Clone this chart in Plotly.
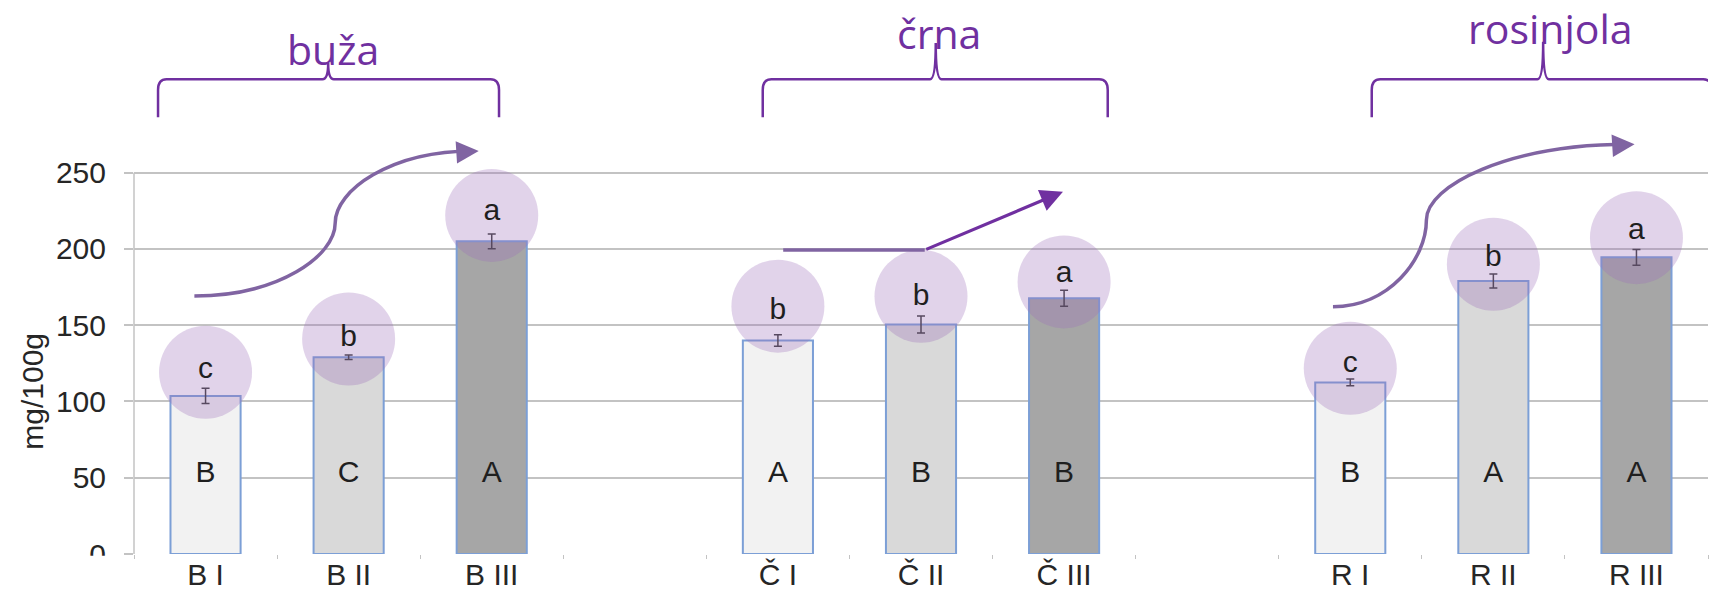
import plotly.graph_objects as go

# bar data (mg/100g)
labels = ["B I", "B II", "B III", "Č I", "Č II", "Č III", "R I", "R II", "R III"]
values = [103.6, 129, 205, 140, 150.5, 167.7, 112.5, 179, 194.5]
errors = [5.0, 1.5, 4.8, 3.8, 5.6, 5.2, 2.2, 4.6, 5.2]
letters_low = ["c", "b", "a", "b", "b", "a", "c", "b", "a"]
letters_cap = ["B", "C", "A", "A", "B", "B", "B", "A", "A"]
groups = ["buža", "črna", "rosinjola"]
y_ticks = [0, 50, 100, 150, 200, 250]

# placement of the hand-drawn letter labels/circles above each bar (offset from bar top)
letter_dy = [17, 12, 19, 18.8, 17.5, 15.3, 12, 14.9, 16.8]
circle_dy = [-1.4, 0, -2, 3.7, 1, -4.6, -2.8, -3.9, -3.9]

fills = ["#f2f2f2", "#d9d9d9", "#a6a6a6"] * 3
purple = "#7030a0"
purple2 = "#8064a2"
txt = dict(family="Liberation Sans, Arial", color="#1f1f1f")

# 3 groups of 3 bars with one empty slot between groups
pos = [g * 4 + i for g in range(3) for i in range(3)]
letter_y = [v + d for v, d in zip(values, letter_dy)]
circle_y = [y + d for y, d in zip(letter_y, circle_dy)]

fig = go.Figure()

fig.add_trace(go.Bar(
    x=pos, y=values, width=0.49,
    marker=dict(color=fills, line=dict(color="#7c9fd6", width=2)),
    error_y=dict(type="data", array=errors, color="#3a3a3a", thickness=1.5, width=4),
    hoverinfo="skip",
))

# translucent circles behind the significance letters
fig.add_trace(go.Scatter(
    x=pos, y=circle_y, mode="markers",
    marker=dict(size=93, color="rgba(155,108,185,0.3)", line=dict(width=0)),
    hoverinfo="skip",
))

fig.add_trace(go.Scatter(
    x=pos, y=letter_y, mode="text", text=letters_low,
    textposition="middle center", textfont=dict(size=30, **txt),
    hoverinfo="skip",
))

fig.add_trace(go.Scatter(
    x=pos, y=[52] * len(pos), mode="text", text=letters_cap,
    textposition="middle center", textfont=dict(size=30, **txt),
    hoverinfo="skip",
))


def brace(xl, xr, xm, yb, yh, yp):
    dx, dy, dm = 0.06, 7, 0.04
    return (f"M {xl},{yb} L {xl},{yh - dy} Q {xl},{yh} {xl + dx},{yh} "
            f"L {xm - dm},{yh} Q {xm},{yh} {xm},{yp} "
            f"Q {xm},{yh} {xm + dm},{yh} L {xr - dx},{yh} "
            f"Q {xr},{yh} {xr},{yh - dy} L {xr},{yb}")


def s_curve(p0, p1, p2):
    return (f"M {p0[0]},{p0[1]} "
            f"C {p0[0] + 0.6 * (p1[0] - p0[0])},{p0[1]} {p1[0]},{p1[1] - 0.45 * (p1[1] - p0[1])} {p1[0]},{p1[1]} "
            f"C {p1[0]},{p1[1] + 0.45 * (p2[1] - p1[1])} {p2[0] - 0.6 * (p2[0] - p1[0])},{p2[1]} {p2[0]},{p2[1]}")


shapes = []
# braces over the groups
for xl, xr, xm, yp in [(-0.332, 2.051, 0.857, 321.9), (3.894, 6.305, 5.103, 335.0), (8.15, 10.527, 9.348, 335.9)]:
    shapes.append(dict(type="path", xref="x", yref="y", path=brace(xl, xr, xm, 286.3, 311.2, yp),
                       line=dict(color=purple, width=2.5)))

# trend arrows
b_tip = (1.909, 264.2)
r_tip = (9.987, 268.6)
shapes.append(dict(type="path", xref="x", yref="y",
                   path=s_curve((-0.078, 169.2), (0.906, 217.0), (b_tip[0] - 0.04, b_tip[1])),
                   line=dict(color=purple2, width=3.5)))
shapes.append(dict(type="path", xref="x", yref="y",
                   path=s_curve((7.879, 162.1), (8.532, 219.0), (r_tip[0] - 0.04, r_tip[1])),
                   line=dict(color=purple2, width=3.5)))
c_start, c_corner, c_tip = (4.037, 199.3), (5.026, 199.3), (5.992, 237.5)
shapes.append(dict(type="line", xref="x", yref="y", x0=c_start[0], y0=c_start[1], x1=c_corner[0], y1=c_corner[1],
                   line=dict(color=purple2, width=3.5)))

# y axis line only up to 250, white mask cutting the "0" label
shapes.append(dict(type="line", xref="paper", yref="y", x0=0, x1=0, y0=0, y1=250,
                   line=dict(color="#c3c3c3", width=1.5), layer="below"))
shapes.append(dict(type="rect", xref="paper", yref="paper", x0=-0.045, x1=-0.012, y0=-0.08, y1=-0.003,
                   fillcolor="white", line=dict(width=0), layer="above"))

annotations = []
for tip, start, col in [(b_tip, (b_tip[0] - 0.1, b_tip[1] - 0.6), purple2),
                        (r_tip, (r_tip[0] - 0.1, r_tip[1] - 0.6), purple2),
                        (c_tip, c_corner, purple)]:
    annotations.append(dict(x=tip[0], y=tip[1], ax=start[0], ay=start[1], xref="x", yref="y",
                            axref="x", ayref="y", text="", showarrow=True, arrowhead=2,
                            arrowsize=1.4, arrowwidth=3.2, arrowcolor=col))

for name, gx, gy in zip(groups, [0.889, 5.124, 9.397], [331.1, 341.8, 345.1]):
    annotations.append(dict(x=gx, y=gy, xref="x", yref="y", text=name, showarrow=False,
                            font=dict(family="Open Sans", size=41, color=purple)))

annotations.append(dict(x=-0.0642, y=107, xref="paper", yref="y", text="mg/100g", showarrow=False,
                        xanchor="center", yanchor="middle", textangle=-90,
                        font=dict(family="Liberation Sans, Arial", size=30, color="#262626")))

fig.update_layout(
    width=1714, height=598,
    margin=dict(l=134, r=6, t=0, b=44),
    plot_bgcolor="white", paper_bgcolor="white",
    showlegend=False,
    shapes=shapes, annotations=annotations,
    xaxis=dict(
        range=[-0.5, 10.5], tickmode="array", tickvals=pos, ticktext=labels,
        showgrid=False, zeroline=False, showline=False, ticks="",
        tickfont=dict(family="Liberation Sans, Arial", size=30, color="#262626"),
        minor=dict(tickmode="array", tickvals=[k + 0.5 for k in range(-1, 11)],
                   ticks="outside", ticklen=4, tickcolor="#c3c3c3", showgrid=False),
    ),
    yaxis=dict(
        range=[0, 363.2], tickmode="array", tickvals=y_ticks,
        showgrid=True, gridcolor="#c3c3c3", gridwidth=1.5,
        ticks="outside", ticklen=9, tickcolor="#c3c3c3", tickwidth=1.5,
        ticklabelstandoff=12,
        zeroline=False, showline=False,
        tickfont=dict(family="Liberation Sans, Arial", size=30, color="#262626"),
    ),
)

# drop the default page margin so the figure sits at the window origin
fig.write_html("out.html", config={"displayModeBar": False},
               post_script="document.body.style.margin='0px';")
